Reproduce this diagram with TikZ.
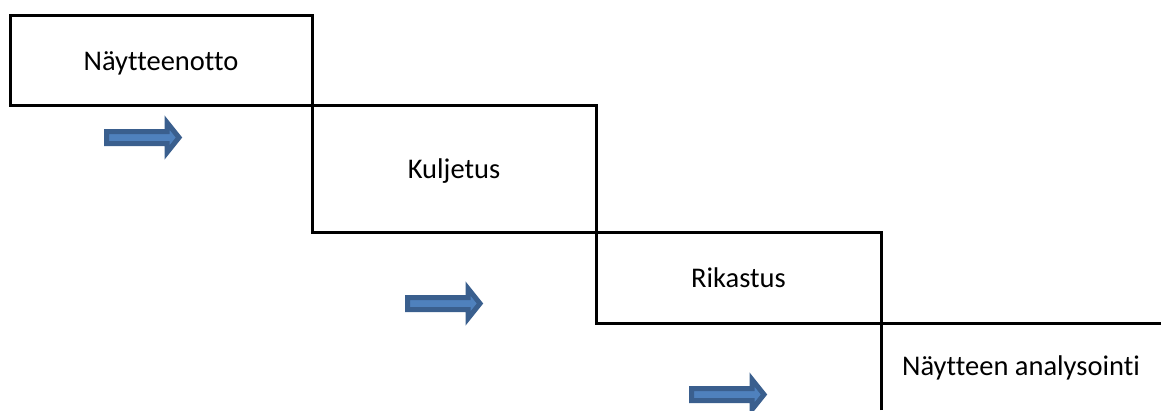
\documentclass[tikz,border=0pt]{standalone}
\usepackage{fontspec}
\setmainfont{Carlito}[Ligatures={NoCommon}]
\definecolor{arrowfill}{HTML}{4F81BD}
\definecolor{arrowline}{HTML}{3A5F8E}
\begin{document}
\begin{tikzpicture}[x=1pt,y=-1pt,
  stage/.style={draw=black, line width=3pt, inner sep=0pt, line join=miter,
    text height=20pt, text depth=0pt,
    font=\fontsize{28.5pt}{34pt}\selectfont},
  label/.style={inner sep=0pt, text height=20pt, text depth=0pt,
    font=\fontsize{28.5pt}{34pt}\selectfont},
  blockarrow/.pic={
    \path[fill=arrowfill, draw=arrowline, line width=5pt, line join=miter]
      (2.5,-6) -- (63,-6) -- (63,-15) -- (75,0) -- (63,15) -- (63,6) -- (2.5,6) -- cycle;
  }]
\useasboundingbox (0,0) rectangle (1161,410);
\node[stage, minimum width=302pt, minimum height=90pt] (n1) at (161,60) {Näytteenotto};
\node[stage, minimum width=284pt, minimum height=127pt] (n2) at (454,168.5) {Kuljetus};
\node[stage, minimum width=285pt, minimum height=91pt] (n3) at (738.5,277.5) {Rikastus};
\coordinate (c4a) at (881,410);
\coordinate (c4b) at (881,323);
\coordinate (c4c) at (1161,323);
\draw[line width=3pt, line join=miter] (c4a) -- (c4b) -- (c4c);
\node[label] (n4) at (1021,365) {Näytteen analysointi};
\pic at (104,137.5) {blockarrow};
\pic at (405,303.5) {blockarrow};
\pic at (689,394.5) {blockarrow};
\end{tikzpicture}
\end{document}
